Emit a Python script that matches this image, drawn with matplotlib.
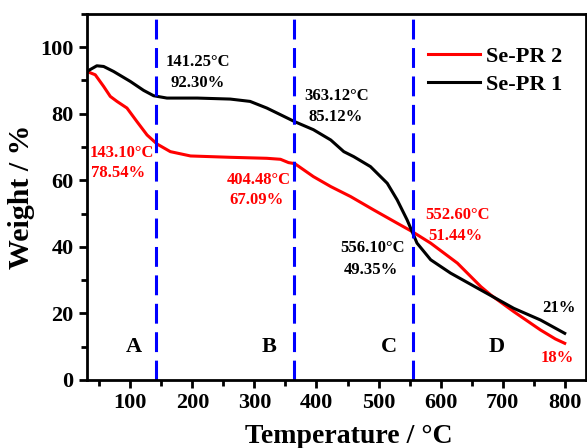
import matplotlib
matplotlib.use('Agg')
import matplotlib.pyplot as plt
from matplotlib.ticker import MultipleLocator

plt.rcParams['font.family'] = 'Liberation Serif'
plt.rcParams['font.weight'] = 'bold'

# Se-PR 1 (black)
t1 = [30, 46, 57, 73, 100, 121.5, 137.6, 159, 208, 261, 293, 320, 342, 365, 395,
      423, 444, 460, 487, 514, 530, 546, 554, 562, 584, 616, 665, 718, 761, 800]
w1 = [92.7, 94.4, 94.2, 92.7, 89.7, 87.0, 85.4, 84.7, 84.7, 84.4, 83.7, 81.7, 79.7,
      77.6, 75.2, 72.1, 68.6, 67.1, 64.1, 59.1, 54.1, 48.1, 44.6, 41.1, 36.1, 32.1,
      27.0, 21.5, 18.0, 14.0]

# Se-PR 2 (red)
t2 = [30, 43.5, 57, 67.7, 78.5, 94.6, 110.8, 127, 143, 164.5, 197, 261, 320, 342,
      355, 365, 395, 423, 455, 492, 530, 554, 584, 627, 665, 681, 718, 761, 785, 800]
w2 = [92.7, 91.7, 88.2, 85.2, 83.7, 81.7, 77.6, 73.6, 70.9, 68.6, 67.3, 66.9, 66.6,
      66.3, 65.3, 65.0, 61.1, 58.1, 55.1, 51.1, 47.1, 44.6, 41.1, 35.1, 28.0, 25.5,
      20.5, 15.0, 12.3, 11.0]

stage_temps = [141.25, 363.12, 556.10]
stage_names = ['A', 'B', 'C', 'D']
stage_x = [105, 323, 517, 691]

fig = plt.figure(figsize=(5.87, 4.48), dpi=100)
ax = fig.add_axes([0.148, 0.152, 0.850, 0.817])

ax.plot(t2, w2, color='red', lw=2.2, label='Se-PR 2')
ax.plot(t1, w1, color='black', lw=2.2, label='Se-PR 1')

for t in stage_temps:
    ax.axvline(t, color='blue', lw=2.2, linestyle=(0, (6.5, 2.8)))

for name, x in zip(stage_names, stage_x):
    ax.text(x, 10, name, fontsize=16, ha='center', va='center')

# annotations
fs = 12
ax.text(209, 95.5, '141.25°C', fontsize=fs, ha='center', va='center', color='black')
ax.text(208, 89.2, '92.30%', fontsize=fs, ha='center', va='center', color='black')
ax.text(86, 68.3, '143.10°C', fontsize=fs, ha='center', va='center', color='red')
ax.text(81, 62.2, '78.54%', fontsize=fs, ha='center', va='center', color='red')
ax.text(307, 60.1, '404.48°C', fontsize=fs, ha='center', va='center', color='red')
ax.text(304, 54.1, '67.09%', fontsize=fs, ha='center', va='center', color='red')
ax.text(433, 85.2, '363.12°C', fontsize=fs, ha='center', va='center', color='black')
ax.text(431, 79, '85.12%', fontsize=fs, ha='center', va='center', color='black')
ax.text(627, 49.6, '552.60°C', fontsize=fs, ha='center', va='center', color='red')
ax.text(624, 43.1, '51.44%', fontsize=fs, ha='center', va='center', color='red')
ax.text(490, 39.6, '556.10°C', fontsize=fs, ha='center', va='center', color='black')
ax.text(487, 33.1, '49.35%', fontsize=fs, ha='center', va='center', color='black')
ax.text(791, 21.5, '21%', fontsize=fs, ha='center', va='center', color='black')
ax.text(788, 6.5, '18%', fontsize=fs, ha='center', va='center', color='red')

ax.set_xlim(30, 834)
ax.set_ylim(0, 110)
ax.set_xticks([100, 200, 300, 400, 500, 600, 700, 800])
ax.xaxis.set_minor_locator(MultipleLocator(50))
ax.yaxis.set_major_locator(MultipleLocator(20))
ax.yaxis.set_minor_locator(MultipleLocator(10))
ax.tick_params(which='major', length=6, width=2, labelsize=16, direction='out')
ax.tick_params(which='minor', length=4, width=2, direction='out')
for s in ax.spines.values():
    s.set_linewidth(2)

ax.set_xlabel('Temperature / °C', fontsize=20, fontweight='bold', labelpad=8)
ax.xaxis.label.set_x(0.525)
ax.set_ylabel('Weight / %', fontsize=21.5, fontweight='bold', labelpad=4)

leg = ax.legend(loc='upper left', bbox_to_anchor=(428 / 587, 1 - 46 / 448),
                bbox_transform=fig.transFigure, frameon=False, fontsize=16,
                handlelength=2.35, handletextpad=0.25, labelspacing=0.34,
                borderpad=0, borderaxespad=0)

fig.savefig('out.png', dpi=100)
